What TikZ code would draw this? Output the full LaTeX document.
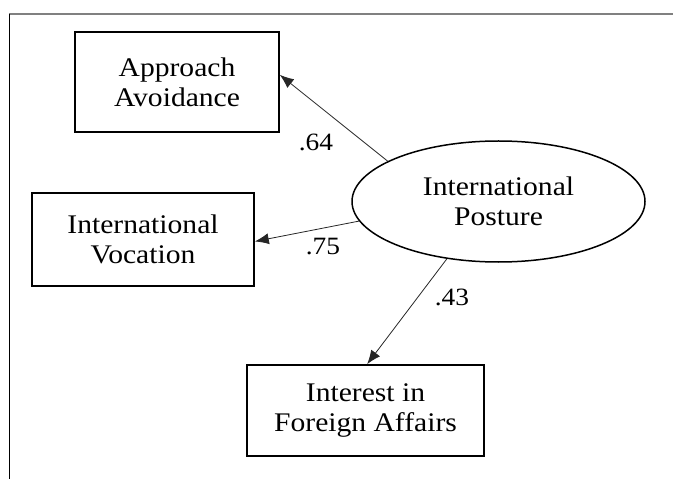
\documentclass[tikz,border=0pt]{standalone}
\usepackage{fontspec}
\setmainfont[FakeStretch=1.1]{Liberation Serif}
\usetikzlibrary{shapes.geometric,arrows.meta}
\tikzset{
  varbox/.style={draw,line width=1.6bp,inner sep=0pt,align=center,
    font=\fontsize{27}{30}\selectfont},
  latent/.style={draw,ellipse,line width=1.5bp,inner sep=0pt,align=center,
    minimum width=293bp,minimum height=121bp,font=\fontsize{27}{30}\selectfont},
  coef/.style={inner sep=0pt,font=\fontsize{25}{28}\selectfont},
  path/.style={->,line width=0.8bp,draw=black!85},
}
\begin{document}
\begin{tikzpicture}[>={Latex[length=14bp,width=11bp]},x=1bp,y=-1bp]
  \useasboundingbox (0,0) rectangle (673,479);
%%
  % Frame
  \draw [line width=2bp,black!50] (9,14) -- (673,14);
  \draw [line width=1.2bp] (9.5,14) -- (9.5,479);
  % Node: International Posture
  \node [latent] (post) at (498.5,201.5) {International\\Posture};
  % Node: Approach Avoidance
  \node [varbox,minimum width=204bp,minimum height=100bp] (appr) at (177,82) {Approach\\Avoidance};
  % Node: International Vocation
  \node [varbox,minimum width=222bp,minimum height=93bp] (voc) at (143,239.5) {International\\Vocation};
  % Node: Interest in Foreign Affairs
  \node [varbox,minimum width=237bp,minimum height=91bp] (intr) at (365.5,410.5) {Interest in\\Foreign Affairs};
  % Edge: International Posture -> Approach Avoidance
  \draw [path] (post.160.5) -- (appr.4);
  \node [coef] (c64) at (316,142) {.64};
  % Edge: International Posture -> International Vocation
  \draw [path] (post.188.3) -- (voc.-1);
  \node [coef] (c75) at (323,247) {.75};
  % Edge: International Posture -> Interest in Foreign Affairs
  \draw [path] (post.228) -- (intr.88);
  \node [coef] (c43) at (452,297) {.43};
%
\end{tikzpicture}
\end{document}
